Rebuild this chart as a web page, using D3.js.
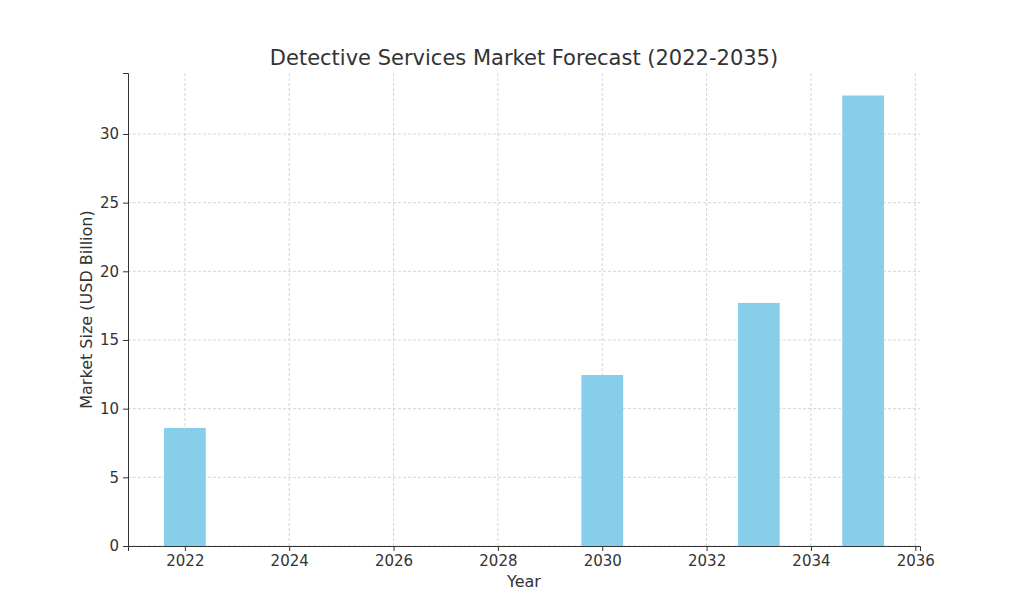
<!DOCTYPE html>
<html>
<head>
<meta charset="utf-8">
<script src="https://cdn.jsdelivr.net/npm/d3@7"></script>
<style>
  body { margin: 0; background: #fff; }
  text { font-family: "DejaVu Sans", sans-serif; fill: #333; }
</style>
</head>
<body>
<div id="chart"></div>
<script>
// data
const years = [2022, 2030, 2033, 2035];
const values = [8.6, 12.45, 17.7, 32.8];
const xTicks = [2022, 2024, 2026, 2028, 2030, 2032, 2034, 2036];
const yTicks = [0, 5, 10, 15, 20, 25, 30];

const W = 1024, H = 614;
const margin = {top: 73, right: 104, bottom: 68, left: 128};
const width = W - margin.left - margin.right,
    height = H - margin.top - margin.bottom;

const svg = d3.select("#chart").append("svg")
    .attr("width", W).attr("height", H);
const g = svg.append("g")
    .attr("transform", `translate(${margin.left},${margin.top})`);

const x = d3.scaleLinear().domain([2020.91, 2036.09]).range([0, width]);
const y = d3.scaleLinear().domain([0, 34.44]).range([height, 0]);

// grid
g.selectAll(".gx").data(xTicks).join("line")
    .attr("x1", d => x(d)).attr("x2", d => x(d))
    .attr("y1", 0).attr("y2", height)
    .attr("stroke", "#ccc").attr("stroke-width", 0.8).attr("stroke-dasharray", "3,2");
g.selectAll(".gy").data(yTicks).join("line")
    .attr("x1", 0).attr("x2", width)
    .attr("y1", d => y(d)).attr("y2", d => y(d))
    .attr("stroke", "#ccc").attr("stroke-width", 0.8).attr("stroke-dasharray", "3,2");

// bars
g.selectAll("rect").data(years).join("rect")
    .attr("x", d => x(d - 0.4))
    .attr("width", x(0.8) - x(0))
    .attr("y", (d, i) => y(values[i]))
    .attr("height", (d, i) => height - y(values[i]))
    .attr("fill", "#87ceeb");

// axes
const xa = g.append("g").attr("transform", `translate(0,${height})`)
    .call(d3.axisBottom(x).tickValues(xTicks).tickFormat(d3.format("d")).tickSize(5).tickPadding(4));
const ya = g.append("g")
    .call(d3.axisLeft(y).tickValues(yTicks).tickSize(5).tickPadding(4));
[xa, ya].forEach(a => {
  a.selectAll("text").style("font-size", "15px").style("fill", "#333");
  a.selectAll("line, path").attr("stroke", "#333");
});

svg.append("text").attr("x", margin.left + width / 2).attr("y", 65)
    .attr("text-anchor", "middle").style("font-size", "21px")
    .text("Detective Services Market Forecast (2022-2035)");
svg.append("text").attr("x", margin.left + width / 2).attr("y", 587)
    .attr("text-anchor", "middle").style("font-size", "16px").text("Year");
svg.append("text")
    .attr("transform", `translate(92,${margin.top + height / 2}) rotate(-90)`)
    .attr("text-anchor", "middle").style("font-size", "16px")
    .text("Market Size (USD Billion)");
</script>
</body>
</html>
